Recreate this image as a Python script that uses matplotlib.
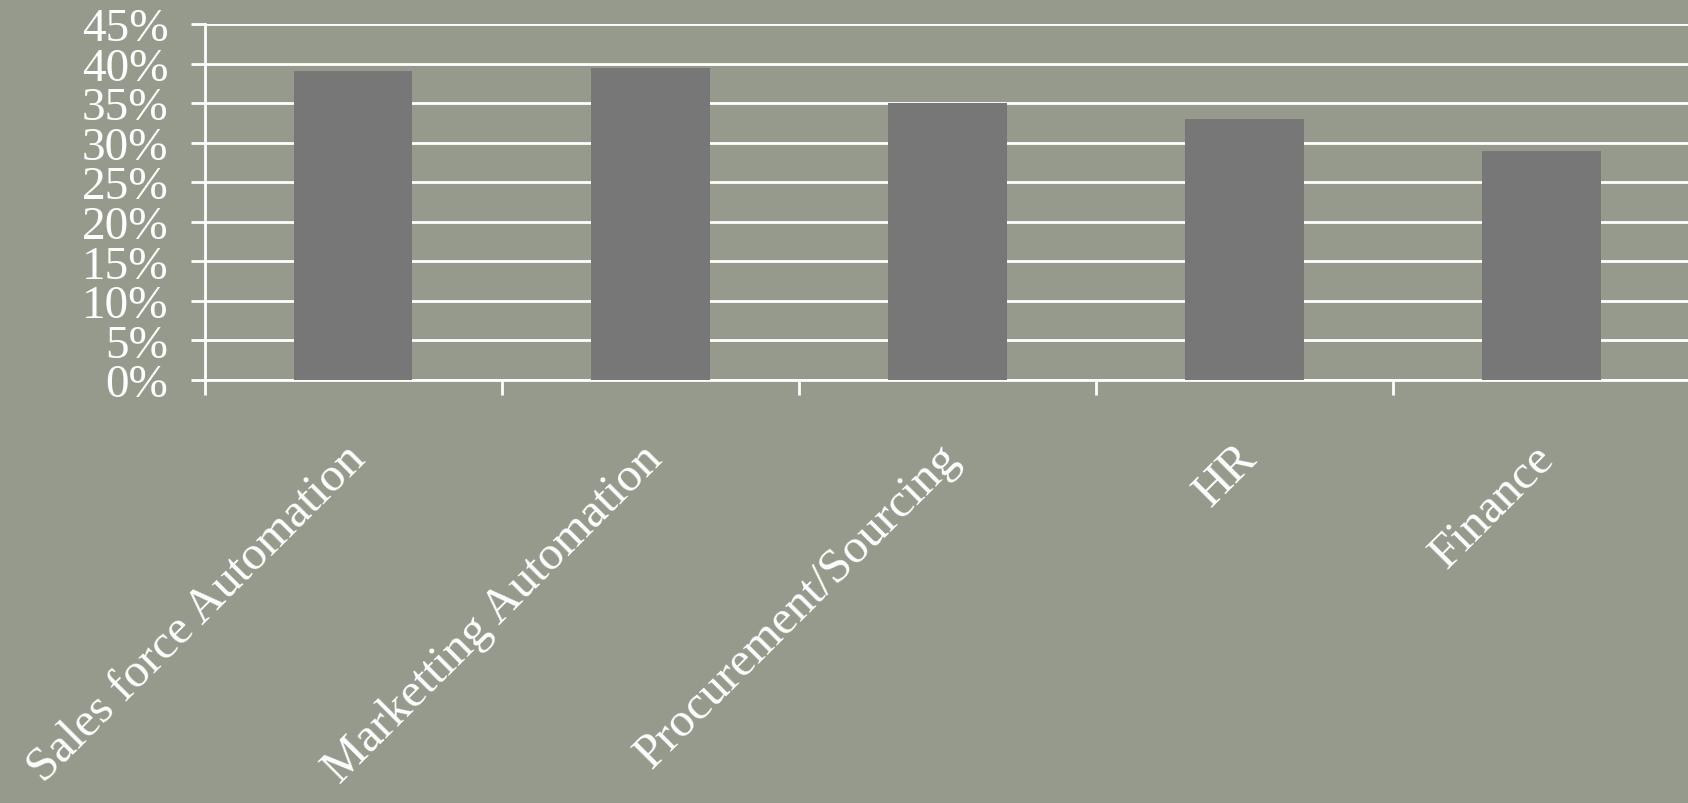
import matplotlib
matplotlib.use("Agg")
import matplotlib.pyplot as plt
import matplotlib.transforms as mtransforms
import numpy as np

categories = ["Sales force Automation", "Marketting Automation", "Procurement/Sourcing", "HR", "Finance"]
values = [0.39, 0.394, 0.35, 0.33, 0.289]
yticks = [0, 0.05, 0.10, 0.15, 0.20, 0.25, 0.30, 0.35, 0.40, 0.45]
ytick_labels = ["0%", "5%", "10%", "15%", "20%", "25%", "30%", "35%", "40%", "45%"]

bg = "#959a8c"
bar_color = "#777777"
font = ["Liberation Serif", "DejaVu Serif"]

fig = plt.figure(figsize=(16.88, 8.04), dpi=100, facecolor=bg)
ax = fig.add_axes([204.5 / 1688, 1 - 381 / 804, (1690 - 204.5) / 1688, (381 - 25) / 804])
ax.set_facecolor("none")

x = np.arange(len(categories))
ax.bar(x, values, width=0.4, color=bar_color, zorder=3)

ax.set_xlim(-0.5, len(categories) - 0.5)
ax.set_ylim(0, 0.45)
ax.set_yticks(yticks)
ax.set_yticklabels(ytick_labels, fontsize=34, color="white", family=font)
ax.yaxis.grid(True, color="white", linewidth=2, zorder=1)
ax.tick_params(axis="y", length=10, width=2, color="white", pad=16)

# category boundary ticks
ax.set_xticks(np.arange(len(categories)) - 0.5, minor=False)
ax.set_xticklabels([])
ax.tick_params(axis="x", which="major", length=11, width=2, color="white")
ax.set_xticks(x, minor=True)
ax.set_xticklabels(categories, minor=True, rotation=45, ha="right", va="top",
                   rotation_mode="anchor", fontsize=35, color="white", family=font)
ax.tick_params(axis="x", which="minor", length=0, pad=40)
shift = mtransforms.ScaledTranslation(-10 / 100, 0, fig.dpi_scale_trans)
for lbl in ax.get_xticklabels(minor=True):
    lbl.set_transform(lbl.get_transform() + shift)

for s in ["top", "right"]:
    ax.spines[s].set_visible(False)
ax.spines["left"].set_color("white")
ax.spines["left"].set_linewidth(2)
ax.spines["bottom"].set_color("white")
ax.spines["bottom"].set_linewidth(2)

fig.savefig("out.png", dpi=100, facecolor=bg)
